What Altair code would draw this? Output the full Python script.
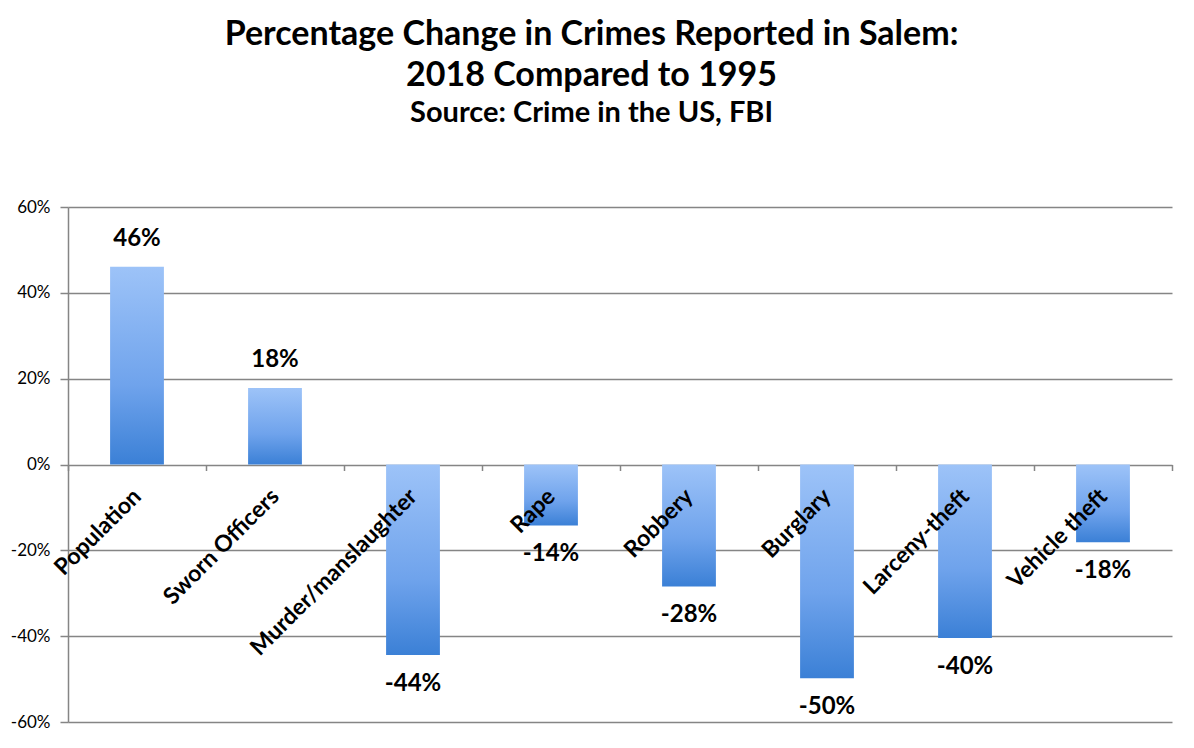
import altair as alt
import pandas as pd

categories = ["Population", "Sworn Officers", "Murder/manslaughter", "Rape",
              "Robbery", "Burglary", "Larceny-theft", "Vehicle theft"]
values = [46.1, 17.8, -44.4, -14.2, -28.4, -49.8, -40.4, -18.1]
labels = ["46%", "18%", "-44%", "-14%", "-28%", "-50%", "-40%", "-18%"]
y_ticks = [-60, -40, -20, 0, 20, 40, 60]

df = pd.DataFrame({"category": categories, "value": values, "label": labels})

W, H = 1104, 515
FONT = "Lato"

x_enc = alt.X(
    "category:N", sort=categories, title=None,
    scale=alt.Scale(paddingInner=0, paddingOuter=0),
    axis=alt.Axis(
        offset=-H / 2, domain=False, ticks=True, tickBand="extent", tickSize=6,
        tickColor="#858585", tickWidth=1.5, labelAngle=-45, labelAlign="right",
        labelBaseline="middle", labelPadding=22, labelFont=FONT, labelFontSize=23,
        labelFontWeight="bold", labelColor="black", labelLimit=0, grid=False, zindex=2,
    ),
)
y_enc = alt.Y(
    "value:Q", title=None,
    scale=alt.Scale(domain=[-60, 60], nice=False),
    axis=alt.Axis(
        values=y_ticks, labelExpr="datum.value + '%'", grid=True,
        gridColor="#858585", gridWidth=1.5, domain=True, domainColor="#858585",
        domainWidth=1.5, tickColor="#858585", tickWidth=1.5, tickSize=8,
        labelPadding=10, labelFont=FONT, labelFontSize=17, labelColor="black",
    ),
)

gradient = alt.Gradient(
    gradient="linear",
    stops=[alt.GradientStop(color="#9DC3F8", offset=0),
           alt.GradientStop(color="#6FA3EC", offset=0.6),
           alt.GradientStop(color="#3B80D6", offset=1)],
    x1=1, x2=1, y1=0, y2=1,
)

base = alt.Chart(df)
bars = base.mark_bar(fill=gradient, width=alt.RelativeBandSize(0.39)).encode(x=x_enc, y=y_enc)

pos = base.transform_filter("datum.value >= 0").mark_text(
    baseline="bottom", dy=-16, font=FONT, fontSize=24, fontWeight="bold", color="black"
).encode(x=alt.X("category:N", sort=categories), y="value:Q", text="label:N")
neg = base.transform_filter("datum.value < 0").mark_text(
    baseline="top", dy=17, font=FONT, fontSize=24, fontWeight="bold", color="black"
).encode(x=alt.X("category:N", sort=categories), y="value:Q", text="label:N")

chart = alt.layer(bars, pos, neg).properties(
    width=W, height=H,
    padding={"left": 2, "top": 10, "right": 3, "bottom": 5},
    title=alt.TitleParams(
        text=["Percentage Change in Crimes Reported in Salem:", "2018 Compared to 1995"],
        subtitle="Source: Crime in the US, FBI",
        font=FONT, fontSize=34, fontWeight="bold", lineHeight=41, color="black",
        subtitleFont=FONT, subtitleFontSize=29, subtitleFontWeight="bold",
        subtitleColor="black", subtitlePadding=6,
        anchor="middle", frame="bounds", offset=70,
    ),
).configure_view(stroke=None)

chart.save("out.html", embed_options={"renderer": "svg", "actions": False})
